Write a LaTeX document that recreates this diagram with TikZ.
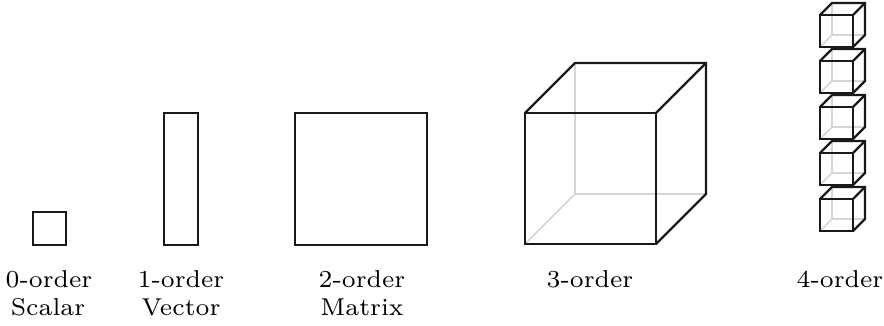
\documentclass[tikz,border=0pt]{standalone}
\usepackage{fontspec}
\newfontfamily\labfont{lmroman7-regular.otf}
\newcommand\cubeat[5]{% x0, y0, w, h, d
  \draw[hid] (#1+#5,#2-#5) -- (#1+#5,#2+#4-#5) -- (#1+#3+#5,#2+#4-#5);
  \draw[hid] (#1,#2+#4) -- (#1+#5,#2+#4-#5);
  \draw[edge] (#1,#2) rectangle (#1+#3,#2+#4);
  \draw[edge] (#1,#2) -- (#1+#5,#2-#5) -- (#1+#3+#5,#2-#5) -- (#1+#3+#5,#2+#4-#5) -- (#1+#3,#2+#4);
  \draw[edge] (#1+#3+#5,#2-#5) -- (#1+#3,#2);
}
\begin{document}
\begin{tikzpicture}[x=1pt,y=-1pt,
  edge/.style={line width=2.2pt,black!90,line join=miter},
  hid/.style={line width=1.6pt,black!16},
  lab/.style={font=\labfont\fontsize{24.4}{29}\selectfont,inner sep=0pt,anchor=base}]
\useasboundingbox (0,0) rectangle (884,326);
% scalar
\draw[edge] (33,212) rectangle (66,245);
% vector
\draw[edge] (164,113) rectangle (198,245);
% matrix
\draw[edge] (295,113) rectangle (427,245);
% 3-order
\cubeat{525}{113}{131}{131}{50}
% 4-order
\foreach \yy in {15,61,107,153,199} {\cubeat{820}{\yy}{33}{32}{12}}
% labels
\node[lab] (l0a) at (49,287) {0-order};
\node[lab] (l0b) at (48,315) {Scalar};
\node[lab] (l1a) at (181,287) {1-order};
\node[lab] (l1b) at (181,315) {Vector};
\node[lab] (l2a) at (362,287) {2-order};
\node[lab] (l2b) at (362,315) {Matrix};
\node[lab] (l3a) at (590,287) {3-order};
\node[lab] (l4a) at (840,287) {4-order};
\end{tikzpicture}
\end{document}
